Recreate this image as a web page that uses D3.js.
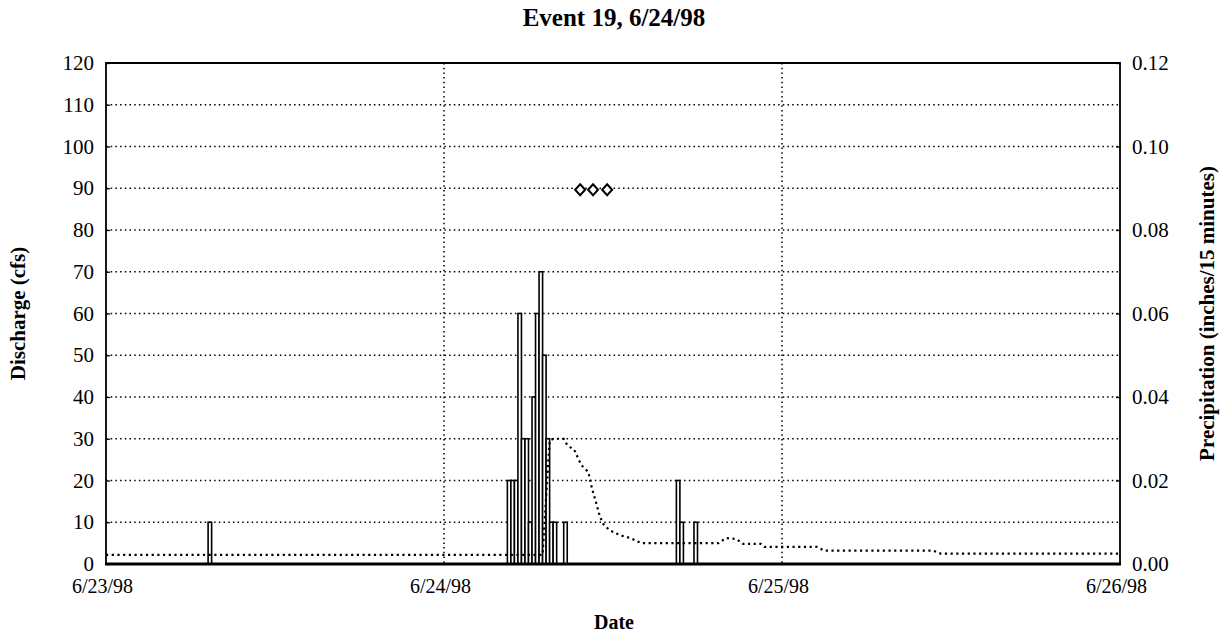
<!DOCTYPE html>
<html>
<head>
<meta charset="utf-8">
<script src="https://cdn.jsdelivr.net/npm/d3@7/dist/d3.min.js"></script>
<style>
  html, body { margin: 0; padding: 0; background: #fff; }
  svg { display: block; }
  text { font-family: "Liberation Serif", "Times New Roman", serif; fill: #000; }
</style>
</head>
<body>
<svg id="chart" width="1228" height="640"></svg>
<script>
// Rainfall, 15-minute totals (inches)
const precipTime = [
  "06/23/98 07:15",
  "06/24/98 04:30", "06/24/98 04:45", "06/24/98 05:00", "06/24/98 05:15",
  "06/24/98 05:30", "06/24/98 05:45", "06/24/98 06:00", "06/24/98 06:15",
  "06/24/98 06:30", "06/24/98 06:45", "06/24/98 07:00", "06/24/98 07:15",
  "06/24/98 07:30", "06/24/98 07:45", "06/24/98 08:30",
  "06/24/98 16:30", "06/24/98 16:45", "06/24/98 17:45"
];
const precipInches = [
  0.01,
  0.02, 0.02, 0.02, 0.06,
  0.03, 0.03, 0.01, 0.04,
  0.06, 0.07, 0.05, 0.03,
  0.01, 0.01, 0.01,
  0.02, 0.01, 0.01
];

// Stream discharge (cfs)
const dischargeTime = [
  "06/23/98 00:00", "06/24/98 07:00", "06/24/98 07:15", "06/24/98 07:30",
  "06/24/98 07:45", "06/24/98 08:30", "06/24/98 08:45", "06/24/98 09:15",
  "06/24/98 09:45", "06/24/98 10:15", "06/24/98 10:30", "06/24/98 10:45",
  "06/24/98 11:00", "06/24/98 11:15", "06/24/98 11:45", "06/24/98 12:30",
  "06/24/98 13:15", "06/24/98 14:00", "06/24/98 19:30", "06/24/98 20:00",
  "06/24/98 20:45", "06/24/98 21:15", "06/24/98 22:30", "06/24/98 22:45",
  "06/25/98 02:30", "06/25/98 03:00", "06/25/98 10:45", "06/25/98 11:15",
  "06/26/98 00:00"
];
const dischargeCfs = [
  2.2, 2.2, 16, 29.5,
  30, 30, 28.5, 27.3,
  23.7, 22, 18.2, 15.3,
  12.2, 9.8, 8.1, 6.9,
  6.2, 5, 5, 6.2,
  6, 4.8, 4.8, 4.1,
  4.1, 3.2, 3.2, 2.5,
  2.5
];

// Water-quality sample times (plotted at a fixed height)
const sampleTime = ["06/24/98 09:40", "06/24/98 10:35", "06/24/98 11:35"];
const sampleLevel = [90, 90, 90];

const leftTicks = [0, 10, 20, 30, 40, 50, 60, 70, 80, 90, 100, 110, 120];
const rightTicks = [0, 0.02, 0.04, 0.06, 0.08, 0.10, 0.12];
const dateTicks = ["06/23/98 00:00", "06/24/98 00:00", "06/25/98 00:00", "06/26/98 00:00"];

const parse = d3.timeParse("%m/%d/%y %H:%M");
const fmtDate = d3.timeFormat("%-m/%-d/%y");

const margin = { left: 106, right: 108, top: 63, bottom: 76 };
const W = 1228, H = 640;
const x0 = margin.left, x1 = W - margin.right, y0 = H - margin.bottom, y1 = margin.top;

const svg = d3.select("#chart");

const x = d3.scaleTime()
  .domain([parse(dateTicks[0]), parse(dateTicks[3])])
  .range([x0, x1]);
const yL = d3.scaleLinear().domain([0, 120]).range([y0, y1]);
const yR = d3.scaleLinear().domain([0, 0.12]).range([y0, y1]);

// Gridlines
const grid = svg.append("g")
  .attr("stroke", "#000").attr("stroke-width", 1.5)
  .attr("stroke-dasharray", "1.5,3.2").attr("fill", "none");
grid.selectAll("line.h").data(leftTicks.slice(1, -1)).join("line")
  .attr("x1", x0).attr("x2", x1)
  .attr("y1", d => yL(d)).attr("y2", d => yL(d));
grid.selectAll("line.v").data(dateTicks.slice(1, -1).map(parse)).join("line")
  .attr("class", "v")
  .attr("x1", d => x(d)).attr("x2", d => x(d))
  .attr("y1", y1).attr("y2", y0);

// Precipitation bars
const precip = precipTime.map((t, i) => ({ t: parse(t), v: precipInches[i] }));
const step = 15 * 60 * 1000;
svg.append("g").selectAll("rect").data(precip).join("rect")
  .attr("x", d => x(d.t))
  .attr("width", d => x(new Date(+d.t + step)) - x(d.t))
  .attr("y", d => yR(d.v))
  .attr("height", d => yR(0) - yR(d.v))
  .attr("fill", "#fff")
  .attr("stroke", "#000")
  .attr("stroke-width", 1.6);

// Discharge hydrograph
const flow = dischargeTime.map((t, i) => ({ t: parse(t), v: dischargeCfs[i] }));
svg.append("path")
  .datum(flow)
  .attr("fill", "none")
  .attr("stroke", "#000")
  .attr("stroke-width", 2.2)
  .attr("stroke-dasharray", "2.2,3.5")
  .attr("d", d3.line().x(d => x(d.t)).y(d => yL(d.v)));

// Sample markers
const samples = sampleTime.map((t, i) => ({ t: parse(t), v: sampleLevel[i] }));
svg.append("g").selectAll("path").data(samples).join("path")
  .attr("transform", d => `translate(${x(d.t)},${yL(d.v) + 1.5})`)
  .attr("d", "M0,-5.5L5,0L0,5.5L-5,0Z")
  .attr("fill", "#fff")
  .attr("stroke", "#000")
  .attr("stroke-width", 2);

// Frame
svg.append("path")
  .attr("d", `M${x0},${y0}V${y1}H${x1}V${y0}`)
  .attr("fill", "none").attr("stroke", "#000").attr("stroke-width", 1.8);
svg.append("line")
  .attr("x1", x0 - 1).attr("x2", x1 + 1).attr("y1", y0).attr("y2", y0)
  .attr("stroke", "#000").attr("stroke-width", 2.8);

// Axes
const leftAxis = d3.axisLeft(yL).tickValues(leftTicks).tickSize(-4).tickPadding(12).tickFormat(d3.format("d"));
const gL = svg.append("g").attr("transform", `translate(${x0},0)`).call(leftAxis);
const rightAxis = d3.axisRight(yR).tickValues(rightTicks).tickSize(-4).tickPadding(12).tickFormat(d3.format(".2f"));
const gR = svg.append("g").attr("transform", `translate(${x1},0)`).call(rightAxis);
const bottomAxis = d3.axisBottom(x).tickValues(dateTicks.map(parse)).tickSize(0).tickPadding(15).tickFormat(fmtDate);
const gB = svg.append("g").attr("transform", `translate(0,${y0})`).call(bottomAxis);

[gL, gR, gB].forEach(g => {
  g.select(".domain").remove();
  g.selectAll(".tick line").attr("stroke", "#000").attr("stroke-width", 1.3);
  g.selectAll(".tick text")
    .attr("font-family", "'Liberation Serif', 'Times New Roman', serif")
    .attr("font-size", 21)
    .attr("fill", "#000");
});
gB.selectAll(".tick text").attr("font-size", 20).attr("dx", -4);

// Titles
svg.append("text")
  .attr("x", 614).attr("y", 26)
  .attr("text-anchor", "middle")
  .attr("font-size", 25).attr("font-weight", "bold")
  .text("Event 19, 6/24/98");
svg.append("text")
  .attr("x", 614).attr("y", 629)
  .attr("text-anchor", "middle")
  .attr("font-size", 20).attr("font-weight", "bold")
  .text("Date");
svg.append("text")
  .attr("transform", `translate(25,${(y0 + y1) / 2}) rotate(-90)`)
  .attr("text-anchor", "middle")
  .attr("font-size", 21).attr("font-weight", "bold")
  .text("Discharge (cfs)");
svg.append("text")
  .attr("transform", `translate(1214,${(y0 + y1) / 2}) rotate(-90)`)
  .attr("text-anchor", "middle")
  .attr("font-size", 21).attr("font-weight", "bold")
  .text("Precipitation (inches/15 minutes)");
</script>
</body>
</html>
